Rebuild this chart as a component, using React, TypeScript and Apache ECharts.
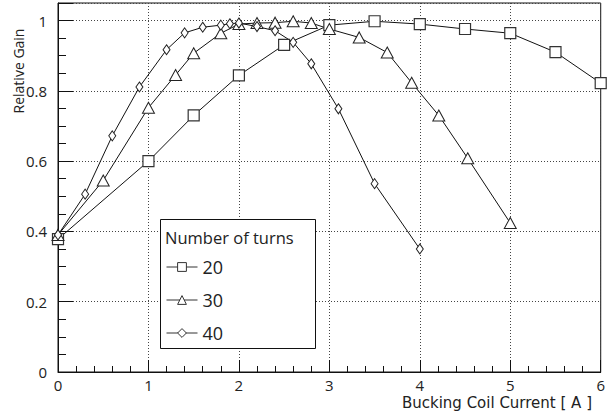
import React, { useEffect, useRef } from "react";
import * as echarts from "echarts";

// Bucking coil current [A] and relative gain for each winding count
const current20 = [0, 1, 1.5, 2, 2.5, 3, 3.5, 4, 4.5, 5, 5.5, 6];
const gain20 = [0.378, 0.6, 0.73, 0.844, 0.931, 0.987, 0.998, 0.99, 0.976, 0.964, 0.91, 0.822];

const current30 = [0, 0.5, 1, 1.3, 1.5, 1.8, 2, 2.2, 2.4, 2.6, 2.8, 3, 3.33, 3.64, 3.91, 4.21, 4.53, 5];
const gain30 = [0.39, 0.545, 0.752, 0.845, 0.907, 0.964, 0.99, 0.993, 0.994, 0.998, 0.993, 0.976, 0.952, 0.909, 0.823, 0.73, 0.608, 0.424];

const current40 = [0, 0.3, 0.6, 0.9, 1.2, 1.4, 1.6, 1.8, 1.9, 2, 2.2, 2.4, 2.6, 2.8, 3.1, 3.5, 4];
const gain40 = [0.39, 0.506, 0.672, 0.811, 0.917, 0.965, 0.981, 0.987, 0.991, 0.993, 0.983, 0.971, 0.938, 0.877, 0.749, 0.536, 0.35];

const turns = ["20", "30", "40"];

const FONT = "'Open Sans', 'Noto Sans', sans-serif";

const pairs = (xs: number[], ys: number[]) => xs.map((x, i) => [x, ys[i]]);

export default function App() {
  const ref = useRef<HTMLDivElement>(null);

  useEffect(() => {
    if (!ref.current) return;
    const chart = echarts.init(ref.current, undefined, { renderer: "svg" });

    const baseSeries = {
      type: "line" as const,
      lineStyle: { color: "#111", width: 1 },
      itemStyle: { color: "#fff", borderColor: "#222", borderWidth: 1 },
      showAllSymbol: true,
      z: 2,
    };

    chart.setOption({
      animation: false,
      backgroundColor: "#fff",
      textStyle: { fontFamily: FONT },
      grid: {
        left: 58,
        right: 6,
        top: 3,
        bottom: 43,
        show: true,
        borderColor: "#111",
        borderWidth: 1,
        backgroundColor: "transparent",
      },
      xAxis: {
        type: "value",
        min: 0,
        max: 6,
        interval: 1,
        axisLine: { show: true, lineStyle: { color: "#111", width: 1 } },
        axisTick: { show: true, inside: true, length: 12, lineStyle: { color: "#111" } },
        minorTick: { show: true, splitNumber: 5, length: 6, lineStyle: { color: "#111" } },
        splitLine: { show: true, lineStyle: { color: "#444", type: [1, 2], width: 1 } },
        axisLabel: { color: "#222", fontSize: 15, margin: 5, fontFamily: FONT },
      },
      yAxis: {
        type: "value",
        min: 0,
        max: 1.05,
        interval: 0.2,
        axisLine: { show: true, lineStyle: { color: "#111", width: 1 } },
        axisTick: { show: true, inside: true, length: 15, lineStyle: { color: "#111" } },
        minorTick: { show: true, splitNumber: 4, length: 8, lineStyle: { color: "#111" } },
        splitLine: { show: true, lineStyle: { color: "#444", type: [1, 2], width: 1 } },
        axisLabel: {
          color: "#222",
          fontSize: 15,
          margin: 11,
          fontFamily: FONT,
          showMaxLabel: false,
          formatter: (v: number) => (v > 1.001 ? "" : String(Math.round(v * 10) / 10)),
        },
      },
      legend: {
        orient: "vertical",
        left: 166,
        top: 258,
        padding: 0,
        z: 8,
        itemWidth: 31,
        itemHeight: 11,
        itemGap: 15,
        data: turns,
        lineStyle: { width: 1, color: "#333" },
        itemStyle: { borderWidth: 1, borderColor: "#333", color: "#fff" },
        textStyle: { fontSize: 18, color: "#222", fontFamily: FONT },
      },
      graphic: [
        {
          type: "rect",
          z: 5,
          shape: { x: 160.5, y: 219.5, width: 155, height: 129 },
          style: { fill: "#fff", stroke: "#111", lineWidth: 1 },
        },
        {
          type: "text",
          z: 9,
          x: 165,
          y: 237,
          style: {
            text: "Number of turns",
            fontSize: 16.5,
            fontFamily: FONT,
            fill: "#222",
            align: "left",
            verticalAlign: "middle",
          },
        },
        {
          type: "text",
          x: 18,
          y: 71,
          rotation: Math.PI / 2,
          style: {
            text: "Relative Gain",
            fontSize: 14,
            fontFamily: FONT,
            fill: "#222",
            align: "center",
            verticalAlign: "middle",
          },
        },
        {
          type: "text",
          x: 592,
          y: 403,
          style: {
            text: "Bucking Coil Current [ A ]",
            fontSize: 15,
            fontFamily: "'DejaVu Sans', sans-serif",
            fill: "#222",
            align: "right",
            verticalAlign: "middle",
          },
        },
      ],
      series: [
        {
          ...baseSeries,
          name: turns[0],
          symbol: "rect",
          symbolSize: 11,
          itemStyle: { color: "#fff", borderColor: "#333", borderWidth: 1.2 },
          data: pairs(current20, gain20),
        },
        {
          ...baseSeries,
          name: turns[1],
          symbol: "triangle",
          symbolSize: [12, 11],
          data: pairs(current30, gain30),
        },
        {
          ...baseSeries,
          name: turns[2],
          symbol: "diamond",
          symbolSize: [7, 10],
          data: pairs(current40, gain40),
        },
      ],
    });

    return () => chart.dispose();
  }, []);

  return <div ref={ref} style={{ width: 608, height: 415, position: "absolute", left: 0, top: 0 }} />;
}
